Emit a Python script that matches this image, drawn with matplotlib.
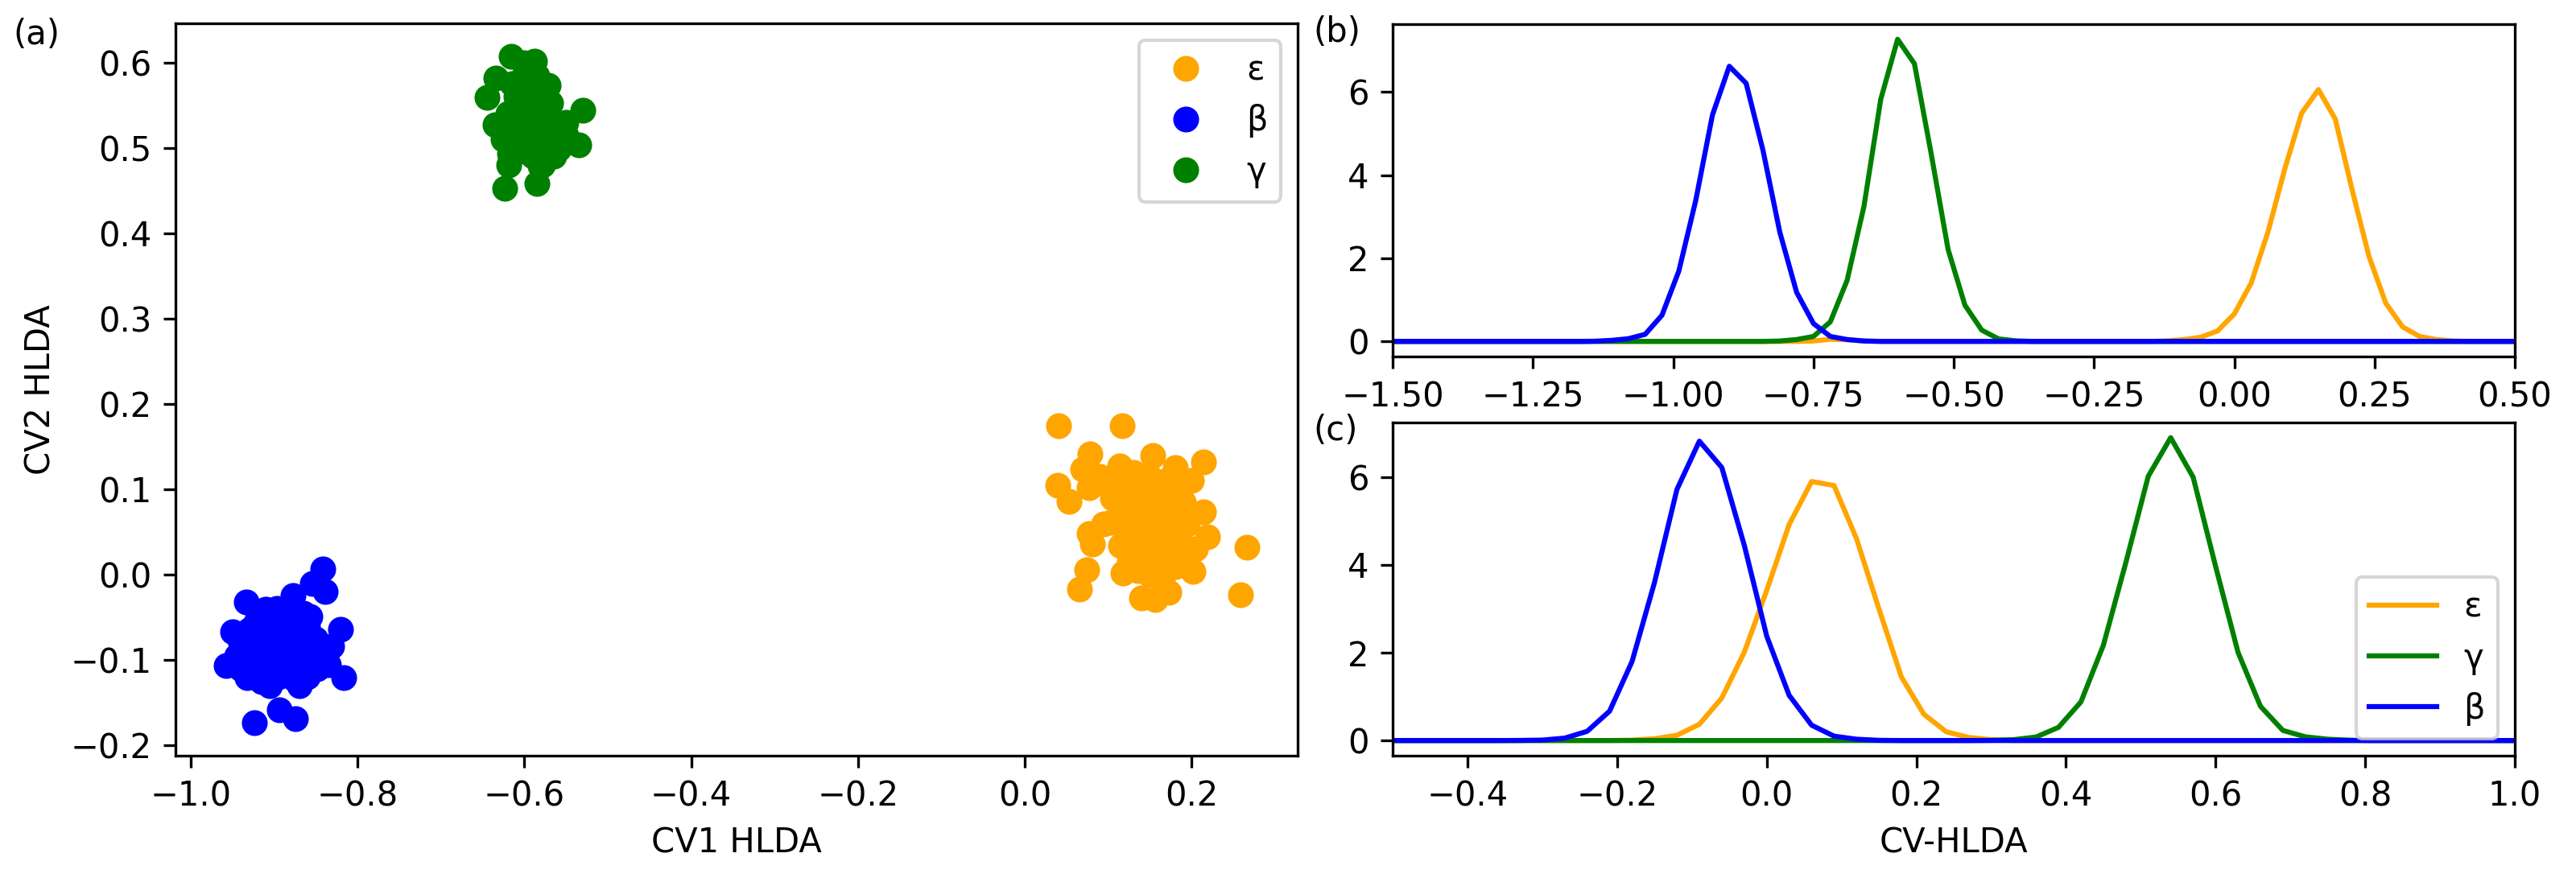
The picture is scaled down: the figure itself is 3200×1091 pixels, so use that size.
import matplotlib
matplotlib.use("Agg")
import matplotlib.pyplot as plt

# ---------------- data: panel (a) scatter ----------------
eps_x = [0.041, 0.117, 0.078, 0.069, 0.153, 0.214, 0.180, 0.114, 0.040, 0.077, 0.101, 0.053,
         0.214, 0.077, 0.103, 0.081, 0.115, 0.219, 0.266, 0.202, 0.074, 0.118, 0.066, 0.259,
         0.173, 0.140, 0.156,
         0.13, 0.15, 0.17, 0.185, 0.12, 0.14, 0.16, 0.19, 0.13, 0.15, 0.17, 0.115, 0.135, 0.155,
         0.175, 0.195, 0.125, 0.145, 0.165, 0.185, 0.13, 0.15, 0.17, 0.19, 0.14, 0.16, 0.18,
         0.15, 0.135, 0.165, 0.20, 0.105, 0.09, 0.095, 0.205, 0.125]
eps_y = [0.175, 0.175, 0.142, 0.124, 0.140, 0.132, 0.126, 0.127, 0.105, 0.102, 0.103, 0.086,
         0.074, 0.048, 0.061, 0.036, 0.034, 0.044, 0.032, 0.004, 0.006, 0.002, -0.017, -0.023,
         -0.021, -0.027, -0.029,
         0.12, 0.115, 0.11, 0.10, 0.10, 0.095, 0.095, 0.085, 0.085, 0.08, 0.08, 0.075, 0.07, 0.065,
         0.065, 0.06, 0.055, 0.05, 0.05, 0.045, 0.04, 0.035, 0.03, 0.025, 0.02, 0.015, 0.01,
         0.0, 0.005, -0.005, 0.11, 0.09, 0.115, 0.06, 0.03, 0.015]

beta_x = [-0.842, -0.854, -0.839, -0.933, -0.877, -0.897, -0.857, -0.820, -0.950, -0.831,
          -0.957, -0.816, -0.932, -0.905, -0.875, -0.894, -0.874, -0.924, -0.848,
          -0.92, -0.90, -0.88, -0.86, -0.93, -0.91, -0.89, -0.87, -0.85, -0.94, -0.92, -0.90,
          -0.88, -0.86, -0.935, -0.915, -0.895, -0.875, -0.855, -0.94, -0.92, -0.90, -0.88,
          -0.86, -0.915, -0.895, -0.87, -0.91, -0.885, -0.905, -0.865, -0.84, -0.835, -0.945,
          -0.925]
beta_y = [0.007, -0.010, -0.020, -0.032, -0.024, -0.039, -0.049, -0.064, -0.067, -0.084,
          -0.106, -0.121, -0.121, -0.130, -0.122, -0.158, -0.169, -0.173, -0.110,
          -0.05, -0.05, -0.045, -0.06, -0.065, -0.065, -0.06, -0.07, -0.075, -0.08, -0.08, -0.08,
          -0.085, -0.09, -0.095, -0.095, -0.10, -0.10, -0.10, -0.11, -0.11, -0.115, -0.11,
          -0.12, -0.125, -0.12, -0.13, -0.04, -0.075, -0.09, -0.045, -0.095, -0.105, -0.095,
          -0.06]

gam_x = [-0.6236, -0.5848, -0.581, -0.619, -0.618, -0.5344, -0.530, -0.6355, -0.645, -0.634,
         -0.616, -0.5874, -0.60, -0.571, -0.5684, -0.5585, -0.578, -0.605,
         -0.61, -0.60, -0.59, -0.58, -0.57, -0.60, -0.62, -0.61, -0.59, -0.58, -0.56, -0.55,
         -0.595, -0.615, -0.60, -0.585, -0.625, -0.57, -0.565, -0.59, -0.55, -0.605, -0.575]
gam_y = [0.4525, 0.458, 0.479, 0.480, 0.4935, 0.504, 0.544, 0.527, 0.559, 0.582,
         0.607, 0.602, 0.60, 0.573, 0.553, 0.499, 0.48, 0.496,
         0.52, 0.53, 0.54, 0.52, 0.51, 0.51, 0.54, 0.56, 0.57, 0.55, 0.52, 0.515,
         0.50, 0.575, 0.585, 0.585, 0.51, 0.535, 0.49, 0.49, 0.53, 0.545, 0.565]

# ---------------- data: panel (b) curves ----------------
b_eps_x = [-1.5, -0.78, -0.75, -0.72, -0.69, -0.66, -0.63, -0.15, -0.12, -0.09, -0.06, -0.03,
           0.00, 0.03, 0.06, 0.09, 0.12, 0.15, 0.18, 0.21, 0.24, 0.27, 0.30, 0.33, 0.36, 0.39,
           0.42, 0.5]
b_eps_y = [0, 0, 0.01, 0.05, 0.04, 0.01, 0, 0, 0.013, 0.045, 0.10, 0.25,
           0.66, 1.40, 2.63, 4.15, 5.49, 6.06, 5.35, 3.65, 2.05, 0.92, 0.35, 0.12, 0.045, 0.013,
           0, 0]
b_gam_x = [-1.5, -0.84, -0.81, -0.78, -0.75, -0.72, -0.69, -0.66, -0.63, -0.60, -0.57, -0.54,
           -0.51, -0.48, -0.45, -0.42, -0.39, -0.36, 0.5]
b_gam_y = [0, 0, 0.01, 0.045, 0.12, 0.47, 1.47, 3.25, 5.83, 7.27, 6.68, 4.5,
           2.21, 0.87, 0.27, 0.06, 0.015, 0, 0]
b_beta_x = [-1.5, -1.17, -1.14, -1.11, -1.08, -1.05, -1.02, -0.99, -0.96, -0.93, -0.90, -0.87,
            -0.84, -0.81, -0.78, -0.75, -0.72, -0.69, -0.66, -0.63, 0.5]
b_beta_y = [0, 0, 0.005, 0.025, 0.065, 0.17, 0.63, 1.69, 3.38, 5.45, 6.62, 6.21,
            4.6, 2.63, 1.18, 0.43, 0.12, 0.045, 0.01, 0, 0]

# ---------------- data: panel (c) curves ----------------
c_eps_x = [-0.5, -0.21, -0.18, -0.15, -0.12, -0.09, -0.06, -0.03, 0.00, 0.03, 0.06, 0.09,
           0.12, 0.15, 0.18, 0.21, 0.24, 0.27, 0.30, 0.33, 1.0]
c_eps_y = [0, 0, 0.01, 0.04, 0.12, 0.37, 0.97, 2.01, 3.42, 4.92, 5.90, 5.81,
           4.6, 3.0, 1.45, 0.60, 0.20, 0.07, 0.02, 0, 0]
c_gam_x = [-0.5, 0.27, 0.30, 0.33, 0.36, 0.39, 0.42, 0.45, 0.48, 0.51, 0.54, 0.57, 0.60,
           0.63, 0.66, 0.69, 0.72, 0.75, 0.78, 0.81, 1.0]
c_gam_y = [0, 0, 0.005, 0.02, 0.08, 0.30, 0.88, 2.17, 4.05, 6.02, 6.90, 6.0, 3.97,
           2.01, 0.78, 0.23, 0.085, 0.03, 0.008, 0, 0]
c_beta_x = [-0.5, -0.36, -0.33, -0.30, -0.27, -0.24, -0.21, -0.18, -0.15, -0.12, -0.09, -0.06,
            -0.03, 0.00, 0.03, 0.06, 0.09, 0.12, 0.15, 0.18, 1.0]
c_beta_y = [0, 0, 0.003, 0.01, 0.055, 0.21, 0.67, 1.80, 3.60, 5.72, 6.82, 6.22,
            4.45, 2.38, 1.03, 0.35, 0.10, 0.03, 0.005, 0, 0]

labels = ["\u03b5", "\u03b2", "\u03b3"]

plt.rcParams['font.size'] = 10
W, H = 3200, 1091
fig = plt.figure(figsize=(W / 300, H / 300), dpi=300)

def box(l, r, t, b):
    return [l / W, 1 - b / H, (r - l) / W, (b - t) / H]

ax_a = fig.add_axes(box(218, 1612, 29, 939))
ax_b = fig.add_axes(box(1730, 3124, 30, 443))
ax_c = fig.add_axes(box(1730, 3124, 525, 939))

# (a)
ms = 6.7
ax_a.plot(eps_x, eps_y, 'o', color='orange', ms=ms, label=labels[0])
ax_a.plot(beta_x, beta_y, 'o', color='blue', ms=ms, label=labels[1])
ax_a.plot(gam_x, gam_y, 'o', color='green', ms=ms, label=labels[2])
ax_a.set_xlabel("CV1 HLDA")
ax_a.set_ylabel("CV2 HLDA")
ax_a.legend(loc='upper right')

# (b)
ax_b.plot(b_eps_x, b_eps_y, color='orange')
ax_b.plot(b_gam_x, b_gam_y, color='green')
ax_b.plot(b_beta_x, b_beta_y, color='blue')
ax_b.set_xlim(-1.5, 0.5)

# (c)
ax_c.plot(c_eps_x, c_eps_y, color='orange', label=labels[0])
ax_c.plot(c_gam_x, c_gam_y, color='green', label=labels[2])
ax_c.plot(c_beta_x, c_beta_y, color='blue', label=labels[1])
ax_c.set_xlim(-0.5, 1.0)
ax_c.set_xlabel("CV-HLDA")
ax_c.legend(loc='lower right')

fig.text(45 / W, 1 - 43 / H, "(a)", ha='center', va='center')
fig.text(1661 / W, 1 - 40 / H, "(b)", ha='center', va='center')
fig.text(1659 / W, 1 - 535 / H, "(c)", ha='center', va='center')

fig.savefig("out.png", dpi=300)
